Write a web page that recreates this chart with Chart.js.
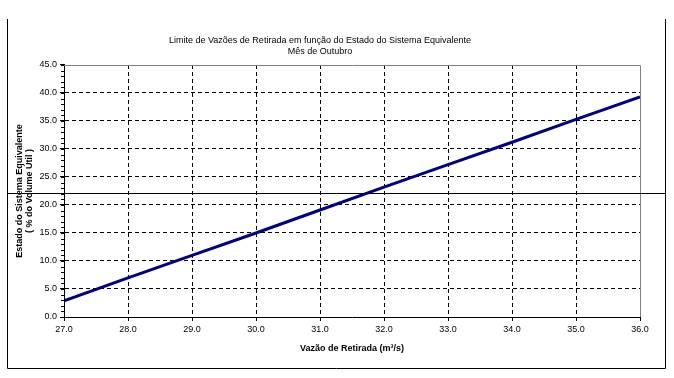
<!DOCTYPE html>
<html>
<head>
<meta charset="utf-8">
<script src="https://cdn.jsdelivr.net/npm/chart.js@4/dist/chart.umd.min.js"></script>
<style>
  html, body { margin: 0; padding: 0; background: #fff; }
  #wrap { width: 674px; height: 378px; position: relative; }
</style>
</head>
<body>
<div id="wrap"><canvas id="chart"></canvas></div>
<script>
// Vazão de retirada (m3/s) vs estado do sistema equivalente (% volume útil)
const vazoes = [27, 28, 29, 30, 31, 32, 33, 34, 35, 36];
const estado = [2.9, 7.0, 11.0, 15.0, 19.1, 23.2, 27.2, 31.2, 35.3, 39.3];
const xRange = [27, 36];
const yRange = [0, 45];
const yStep = 5;
const yMinorStep = 1;
const refLine = 22.1;   // black horizontal rule across the sheet

const chartTitle = ['Limite de Vazões de Retirada em função do Estado do Sistema Equivalente', 'Mês de Outubro'];
const yTitle = ['Estado do Sistema Equivalente', '( % do Volume Útil )'];
const xTitle = 'Vazão de Retirada (m³/s)';

const FONT = '"Liberation Sans", Arial, sans-serif';

const sheetPlugin = {
    id: 'sheet',
    beforeDatasetsDraw(chart) {
        const { ctx, chartArea: a, scales: { y } } = chart;
        ctx.save();
        ctx.lineWidth = 1;
        // gray plot frame (top / right)
        ctx.strokeStyle = '#808080';
        ctx.beginPath();
        ctx.moveTo(a.left, Math.round(a.top) + 0.5);
        ctx.lineTo(Math.round(a.right) + 0.5, Math.round(a.top) + 0.5);
        ctx.lineTo(Math.round(a.right) + 0.5, a.bottom);
        ctx.stroke();
        // minor ticks on the y axis
        ctx.strokeStyle = '#000';
        ctx.beginPath();
        for (let v = yRange[0]; v <= yRange[1]; v += yMinorStep) {
            const py = Math.round(y.getPixelForValue(v)) + 0.5;
            ctx.moveTo(a.left - 3, py);
            ctx.lineTo(a.left, py);
        }
        ctx.stroke();
        // outer frame
        ctx.beginPath();
        ctx.moveTo(7.5, 19);
        ctx.lineTo(7.5, 368.5);
        ctx.lineTo(665.5, 368.5);
        ctx.lineTo(665.5, 19);
        ctx.stroke();
        // horizontal rule
        const ry = Math.round(y.getPixelForValue(refLine)) + 0.5;
        ctx.beginPath();
        ctx.moveTo(7.5, ry);
        ctx.lineTo(665.5, ry);
        ctx.stroke();
        ctx.restore();
    }
};

new Chart(document.getElementById('chart'), {
    type: 'line',
    data: {
        datasets: [{
            data: vazoes.map((v, i) => ({ x: v, y: estado[i] })),
            borderColor: '#000080',
            borderWidth: 3,
            pointRadius: 0,
            tension: 0,
            fill: false
        }]
    },
    options: {
        responsive: true,
        maintainAspectRatio: false,
        animation: false,
        layout: { padding: { left: 0, right: 34, top: 0, bottom: 0 } },
        plugins: {
            legend: { display: false },
            tooltip: { enabled: false },
            title: {
                display: true,
                text: chartTitle,
                color: '#000',
                font: { family: FONT, size: 9, weight: 'normal', lineHeight: 1.22 },
                padding: { top: 35, bottom: 8 }
            }
        },
        scales: {
            x: {
                type: 'linear',
                min: xRange[0],
                max: xRange[1],
                afterFit: s => { s.height = 61; },
                ticks: {
                    stepSize: 1,
                    color: '#000',
                    padding: 3,
                    maxRotation: 0,
                    font: { family: FONT, size: 9 },
                    callback: v => v.toFixed(1)
                },
                grid: {
                    color: c => (c.tick && (c.tick.value === xRange[0] || c.tick.value === xRange[1])) ? 'rgba(0,0,0,0)' : '#000',
                    lineWidth: 1,
                    tickColor: '#000',
                    tickLength: 4,
                    tickBorderDash: []
                },
                border: { display: true, color: '#000', width: 1, dash: [4, 3] },
                title: {
                    display: true,
                    text: xTitle,
                    color: '#000',
                    font: { family: FONT, size: 9, weight: 'bold' },
                    padding: { top: 0, bottom: 24 }
                }
            },
            y: {
                min: yRange[0],
                max: yRange[1],
                afterFit: s => { s.width = 64; },
                ticks: {
                    stepSize: yStep,
                    color: '#000',
                    padding: 3,
                    font: { family: FONT, size: 9 },
                    callback: v => v.toFixed(1)
                },
                grid: {
                    color: c => (c.tick && (c.tick.value === yRange[0] || c.tick.value === yRange[1])) ? 'rgba(0,0,0,0)' : '#000',
                    lineWidth: 1,
                    tickColor: '#000',
                    tickLength: 4,
                    tickBorderDash: []
                },
                border: { display: true, color: '#000', width: 1, dash: [4, 3] },
                title: {
                    display: true,
                    text: yTitle,
                    color: '#000',
                    font: { family: FONT, size: 9, weight: 'bold', lineHeight: 1.15 },
                    padding: { top: 14, bottom: 0 }
                }
            }
        }
    },
    plugins: [sheetPlugin]
});
</script>
</body>
</html>
